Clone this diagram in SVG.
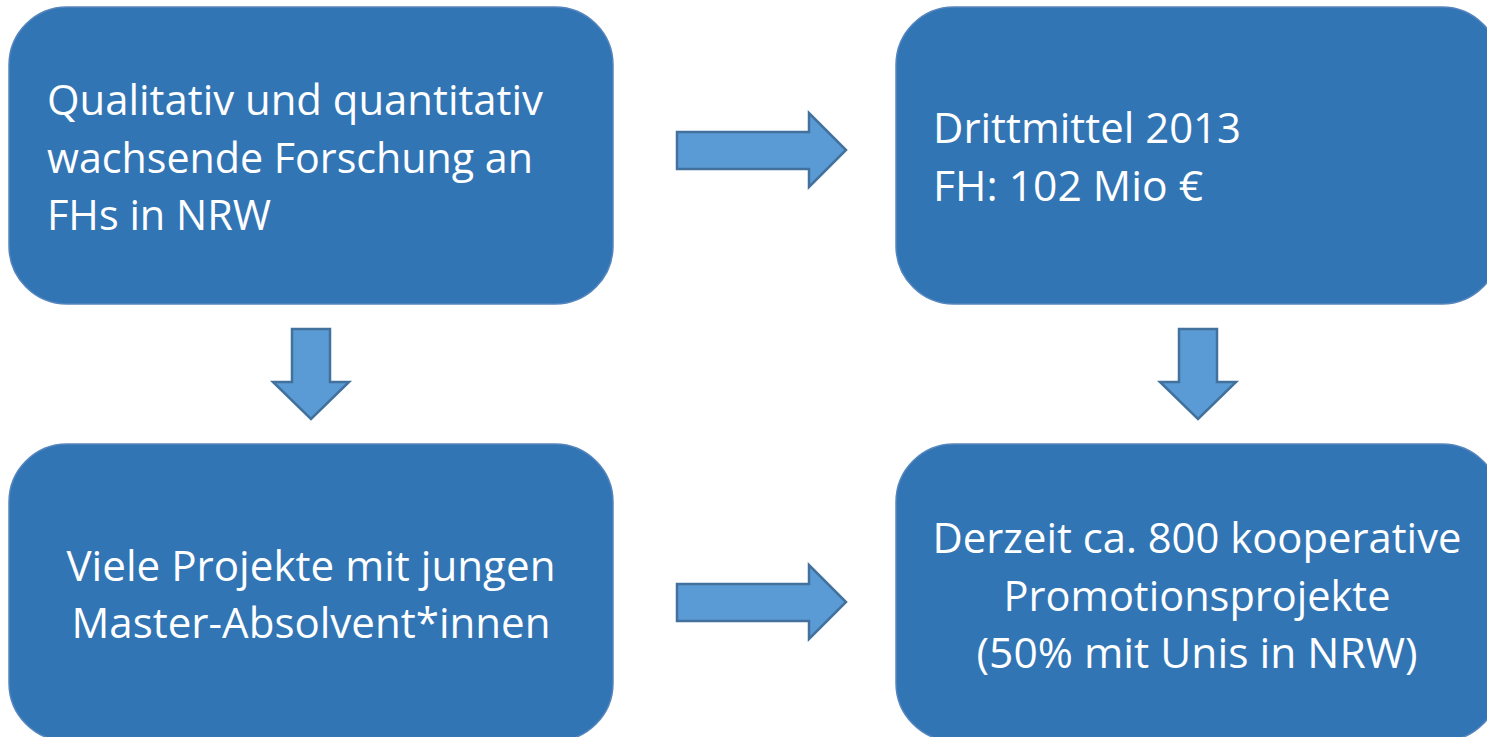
<svg xmlns="http://www.w3.org/2000/svg" width="1487" height="737" viewBox="0 0 1487 737">
<style>
.box{fill:#3175B5;stroke:#5585BC;stroke-width:1.5}
.arr{fill:#5B9BD5;stroke:#41719C;stroke-width:2.5;stroke-linejoin:miter}
.t{font-family:"Open Sans","Liberation Sans",sans-serif;font-size:42px;fill:#FFFFFF}
.c{text-anchor:middle}
</style>
<rect width="1487" height="737" fill="#FFFFFF"/>
<g id="node-forschung">
<rect class="box" x="9" y="7" width="604" height="297" rx="58" ry="58"/>
<text class="t" x="47" y="115" textLength="496" lengthAdjust="spacingAndGlyphs">Qualitativ und quantitativ</text>
<text class="t" x="47" y="173" textLength="486" lengthAdjust="spacingAndGlyphs">wachsende Forschung an</text>
<text class="t" x="47" y="230" textLength="224" lengthAdjust="spacingAndGlyphs">FHs in NRW</text>
</g>
<g id="node-drittmittel">
<rect class="box" x="896" y="7" width="604" height="297" rx="58" ry="58"/>
<text class="t" x="933" y="143" textLength="308" lengthAdjust="spacingAndGlyphs">Drittmittel 2013</text>
<text class="t" x="933" y="201" textLength="270" lengthAdjust="spacingAndGlyphs">FH: 102 Mio €</text>
</g>
<g id="node-projekte">
<rect class="box" x="9" y="444" width="604" height="297" rx="58" ry="58"/>
<text class="t c" x="311" y="581" textLength="489" lengthAdjust="spacingAndGlyphs">Viele Projekte mit jungen</text>
<text class="t c" x="311" y="638" textLength="479" lengthAdjust="spacingAndGlyphs">Master-Absolvent*innen</text>
</g>
<g id="node-promotion">
<rect class="box" x="896" y="444" width="604" height="297" rx="58" ry="58"/>
<text class="t c" x="1197" y="553" textLength="529" lengthAdjust="spacingAndGlyphs">Derzeit ca. 800 kooperative</text>
<text class="t c" x="1197" y="611" textLength="387" lengthAdjust="spacingAndGlyphs">Promotionsprojekte</text>
<text class="t c" x="1197" y="668" textLength="441" lengthAdjust="spacingAndGlyphs">(50% mit Unis in NRW)</text>
</g>
<g id="connectors">
<polygon class="arr" points="677,132 809,132 809,113 846,150 809,187 809,169 677,169"/>
<polygon class="arr" points="677,584 809,584 809,565 846,602 809,639 809,621 677,621"/>
<polygon class="arr" points="292,329 330,329 330,382 349,382 311,419 273,382 292,382"/>
<polygon class="arr" points="1179,329 1217,329 1217,382 1236,382 1198,419 1160,382 1179,382"/>
</g>
</svg>
